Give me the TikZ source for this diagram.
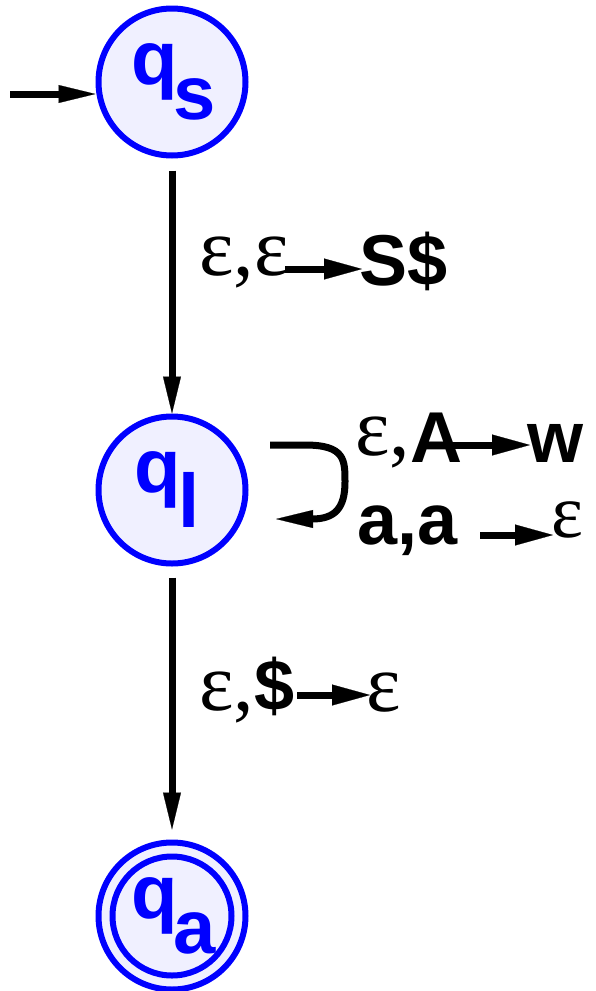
\documentclass[tikz,border=0pt]{standalone}
\usepackage{fontspec}
\setmainfont{Liberation Serif}
\newfontfamily\lsans{Liberation Sans}
\usetikzlibrary{arrows.meta}
\definecolor{stateblue}{RGB}{0,0,255}
\definecolor{statefill}{RGB}{240,240,255}
\newcommand\symb[1]{{\lsans\bfseries\fontsize{72pt}{80pt}\selectfont #1}}
\begin{document}
\begin{tikzpicture}[x=1pt,y=-1pt,
  state/.style={circle,draw=stateblue,fill=statefill,line width=6pt,minimum size=147pt,inner sep=0pt,text=stateblue,font=\lsans\bfseries\fontsize{76pt}{80pt}\selectfont},
  edge/.style={line width=7pt,-{Triangle[length=37pt,width=18pt,line width=0.2pt]}},
  lblarrow/.style={line width=7pt,-{Triangle[length=38pt,width=21pt,line width=0.2pt]}},
  sym/.style={inner sep=0pt,anchor=base west,font=\lsans\bfseries\fontsize{72pt}{80pt}\selectfont},
  eps/.style={inner sep=0pt,anchor=base west,font=\fontsize{82pt}{88pt}\selectfont},
]
\useasboundingbox (0,0) rectangle (595,991);
% states
\node[state] (qs) at (172,82) {\kern3pt q\kern-5pt\raisebox{-35pt}{s}};
\node[state] (qI) at (172,490) {q\kern-2pt\raisebox{-35pt}{l}\kern10pt};
\node[state] (qa) at (172,916) {\kern3pt q\kern-5pt\raisebox{-35pt}{a}};
\draw[stateblue,line width=6pt] (qa) circle[radius=59.5];
% start arrow
\coordinate (init) at (10,94);
\draw[edge] (init) -- (init -| qs.west);
% transitions
\draw[edge] ([yshift=-12pt]qs.south) -- (qI.north);
\draw[edge] ([yshift=-11pt]qI.south) -- ([yshift=10pt]qa.north);
% loop
\coordinate (ls) at (270,445);
\coordinate (le) at (276,519);
\draw[edge] (ls) -- (305,445) .. controls (345,445) and (345,460) .. (345,482) .. controls (345,508) and (335,519) .. (312,519) -- (le);
% label 1
\node[eps] (l1e) at (199,275) {ε,ε};
\coordinate (l1a) at (285,269);
\coordinate (l1b) at (362,269);
\draw[lblarrow] (l1a) -- (l1b);
\node[sym] (l1s) at (359,285) {S\$};
% label 2
\node[eps] (l2e) at (355,455) {ε,\symb{\raisebox{-7pt}{A}}};
\coordinate (l2a1) at (450,445);
\coordinate (l2b1) at (530,445);
\draw[lblarrow] (l2a1) -- (l2b1);
\node[sym] (l2w) at (527,462) {w};
\node[sym] (l2aa) at (357,544) {a,a};
\coordinate (l2a2) at (480,535);
\coordinate (l2b2) at (553,535);
\draw[lblarrow] (l2a2) -- (l2b2);
\node[eps,font=\fontsize{76pt}{80pt}\selectfont] (l2e2) at (551,537) {ε};
% label 3
\node[eps] (l3e) at (199,710) {ε,\symb{\$}};
\coordinate (l3a) at (297,695);
\coordinate (l3b) at (370,695);
\draw[lblarrow] (l3a) -- (l3b);
\node[eps] (l3e2) at (366,711) {ε};
\end{tikzpicture}
\end{document}
